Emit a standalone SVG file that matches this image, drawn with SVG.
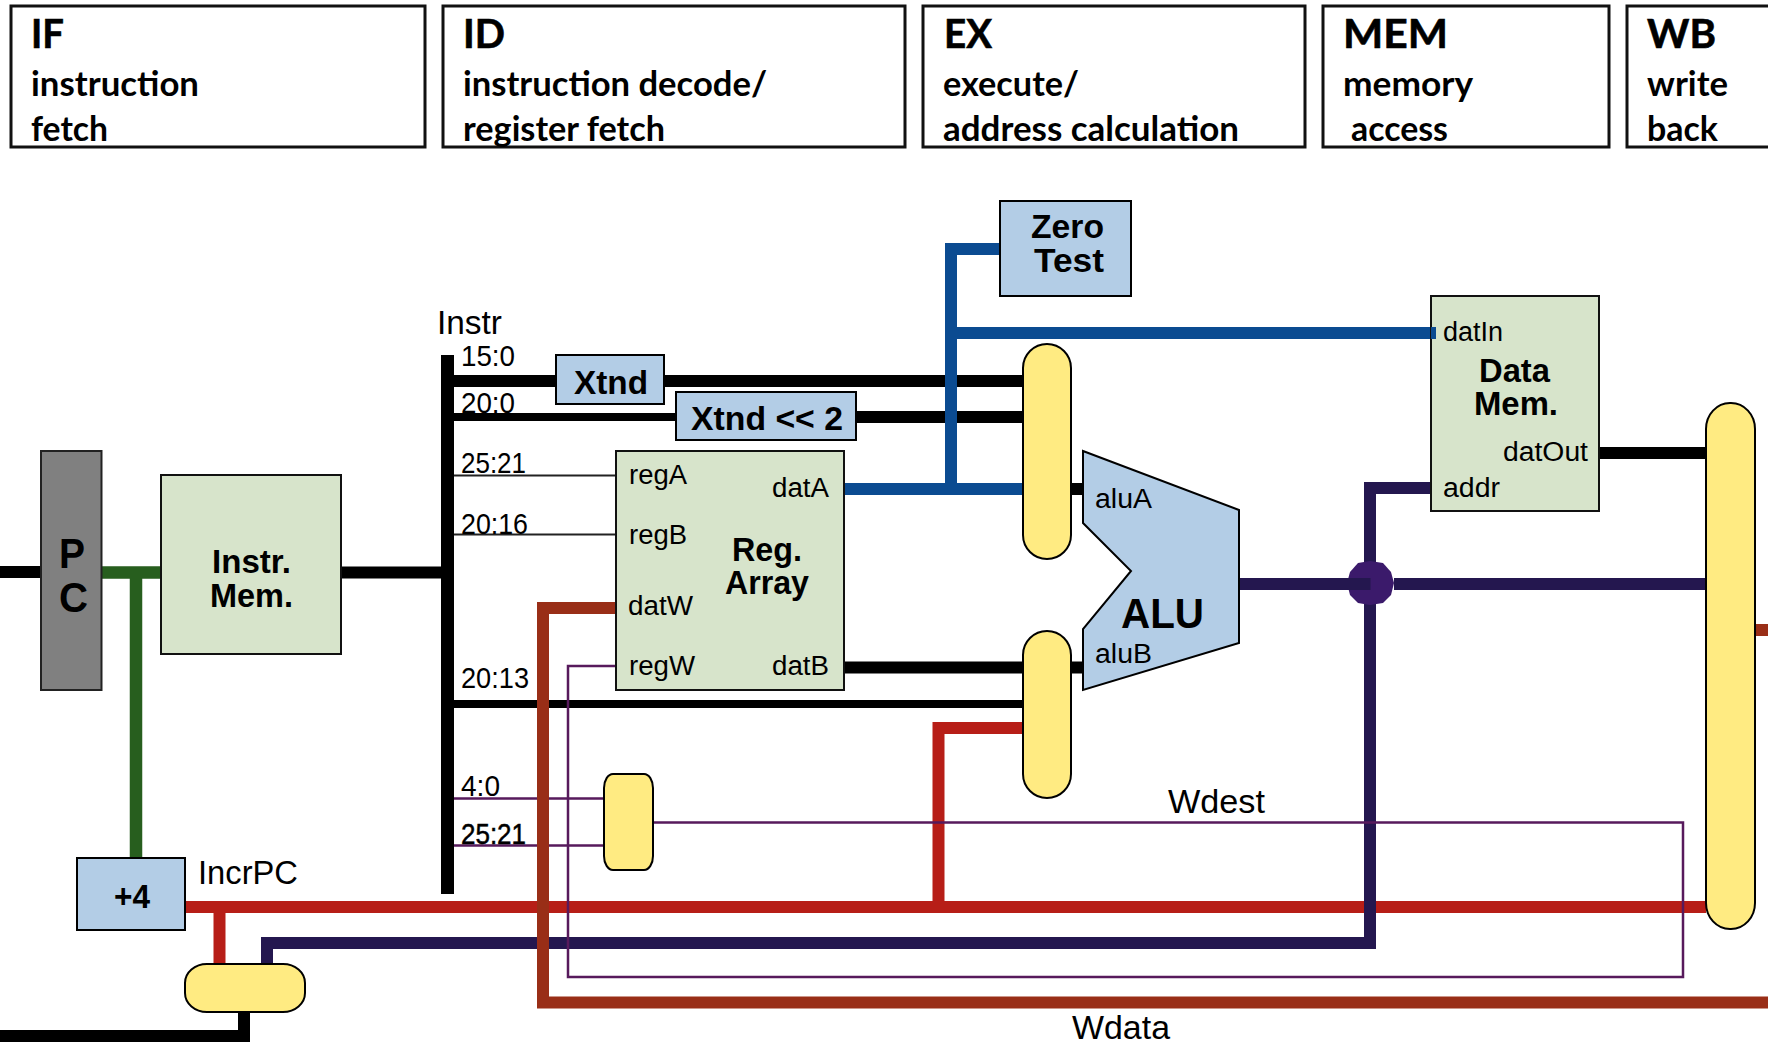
<svg xmlns="http://www.w3.org/2000/svg" width="1768" height="1044" viewBox="0 0 1768 1044">
<style>
text{fill:#000;font-family:"Liberation Sans",Arial,sans-serif}
.h{font-family:Lato,"Open Sans",sans-serif;font-weight:700;font-size:34px}
.t{font-family:Lato,"Open Sans",sans-serif;font-weight:700;font-size:41px;stroke:#000;stroke-width:.6}
.b{font-weight:700;font-size:34px}
.p{font-size:27px}
.l{font-size:33px}
.n{font-size:30px}
.hb{fill:#fff;stroke:#111;stroke-width:3}
.blue{fill:#b3cde6;stroke:#000;stroke-width:2}
.green{fill:#d7e4cb;stroke:#111;stroke-width:2}
.mux{fill:#ffeb82;stroke:#000;stroke-width:2}
.w{fill:none;stroke-linejoin:miter;stroke-linecap:butt}
.k{stroke:#000;stroke-width:12}
.k8{stroke:#000;stroke-width:8}
.thin{stroke:#222;stroke-width:2}
.gr{stroke:#275e1e;stroke-width:12.5}
.bl{stroke:#0b4b91;stroke-width:12}
.rd{stroke:#b71e17;stroke-width:12}
.nv{stroke:#24174f;stroke-width:12}
.br{stroke:#992e17;stroke-width:12}
.pu{stroke:#571a5c;stroke-width:2.5}
</style>

<g id="stage-if"><rect class="hb" x="11" y="6" width="414" height="141"/><text class="t" x="31" y="48" textLength="33" lengthAdjust="spacingAndGlyphs">IF</text><text class="h" x="31" y="96" textLength="168" lengthAdjust="spacingAndGlyphs">instruction</text><text class="h" x="31" y="141" textLength="77" lengthAdjust="spacingAndGlyphs">fetch</text></g>
<g id="stage-id"><rect class="hb" x="443" y="6" width="462" height="141"/><text class="t" x="463" y="48" textLength="42" lengthAdjust="spacingAndGlyphs">ID</text><text class="h" x="463" y="96" textLength="304" lengthAdjust="spacingAndGlyphs">instruction decode/</text><text class="h" x="463" y="141" textLength="202" lengthAdjust="spacingAndGlyphs">register fetch</text></g>
<g id="stage-ex"><rect class="hb" x="923" y="6" width="382" height="141"/><text class="t" x="944" y="48" textLength="48" lengthAdjust="spacingAndGlyphs">EX</text><text class="h" x="943" y="96" textLength="136" lengthAdjust="spacingAndGlyphs">execute/</text><text class="h" x="943" y="141" textLength="296" lengthAdjust="spacingAndGlyphs">address calculation</text></g>
<g id="stage-mem"><rect class="hb" x="1323" y="6" width="286" height="141"/><text class="t" x="1343" y="48" textLength="105" lengthAdjust="spacingAndGlyphs">MEM</text><text class="h" x="1343" y="96" textLength="130" lengthAdjust="spacingAndGlyphs">memory</text><text class="h" x="1351" y="141" textLength="97" lengthAdjust="spacingAndGlyphs">access</text></g>
<g id="stage-wb"><rect class="hb" x="1627" y="6" width="160" height="141"/><text class="t" x="1647" y="48" textLength="69" lengthAdjust="spacingAndGlyphs">WB</text><text class="h" x="1647" y="96" textLength="81" lengthAdjust="spacingAndGlyphs">write</text><text class="h" x="1647" y="141" textLength="71" lengthAdjust="spacingAndGlyphs">back</text></g>

<g id="connectors">
<path class="w k" d="M0 572H41"/>
<path class="w k" d="M341 572.500H441"/>
<path class="w k" d="M454 381H556M665 381H1023"/>
<path class="w k8" d="M454 417H676"/>
<path class="w k" d="M856 417H1023"/>
<path class="w thin" d="M454 475.500H616M454 534.500H616"/>
<path class="w k" d="M844 667.500H1023M1071 667.500H1083M1071 489H1083"/>
<path class="w k8" d="M454 704H1023"/>
<path class="w k" d="M1599 453H1706"/>
<path class="w k" d="M0 1036H244V1010"/>
<path class="w gr" d="M101 572.500H161M136 572.500V857"/>
<path class="w bl" d="M844 489H1023M999 249H951V489M951 333H1436"/>
<path class="w rd" d="M185 907H1706M219.500 907V964M1023 728H938.500V907"/>
<path class="w nv" d="M267 964V943H1370V488H1431"/>
<path class="w pu" d="M449 798.500H604M449 845.500H604"/>
<path class="w br" d="M616 608H543V1002.500H1768"/>
<path class="w br" stroke-width="14" d="M1754 630H1768"/>
<path class="w pu" d="M616 666H568V977H1683V822.500H653"/>
<path id="junction" d="M1358 563L1370 561L1383 563L1391 572L1394 583L1391 595L1383 603L1370 605L1358 603L1350 595L1347 583L1350 572Z" fill="#3b1a6b"/>
<path class="w nv" d="M1239 584H1370.500M1394 584H1706"/>
</g>

<g id="pc"><rect x="41" y="451" width="60.500" height="239" fill="#808080" stroke="#222" stroke-width="2"/><text x="59" y="568" font-size="42" font-weight="700" textLength="26" lengthAdjust="spacingAndGlyphs">P</text><text x="59" y="612" font-size="42" font-weight="700" textLength="29" lengthAdjust="spacingAndGlyphs">C</text></g>
<g id="instr-mem"><rect class="green" x="161" y="475" width="180" height="179"/><text class="b" x="212" y="573" textLength="79" lengthAdjust="spacingAndGlyphs">Instr.</text><text class="b" x="210" y="607" textLength="83" lengthAdjust="spacingAndGlyphs">Mem.</text></g>
<g id="incr"><rect class="blue" x="77" y="858" width="108" height="72"/><text class="b" x="114" y="908" textLength="36" lengthAdjust="spacingAndGlyphs">+4</text></g>
<g id="instr-bus"><rect x="441" y="355" width="13" height="539" fill="#000"/></g>
<g id="xtnd"><rect class="blue" x="556" y="355" width="108" height="49"/><text class="b" x="574" y="394" textLength="74" lengthAdjust="spacingAndGlyphs">Xtnd</text></g>
<g id="xtnd2"><rect class="blue" x="676" y="392" width="180" height="48"/><text class="b" x="691" y="430" textLength="152" lengthAdjust="spacingAndGlyphs">Xtnd &lt;&lt; 2</text></g>
<g id="reg-array"><rect class="green" x="616" y="451" width="228" height="239"/>
<text class="p" x="629" y="484" textLength="58" lengthAdjust="spacingAndGlyphs">regA</text><text class="p" x="772" y="497" textLength="57" lengthAdjust="spacingAndGlyphs">datA</text><text class="p" x="629" y="544" textLength="58" lengthAdjust="spacingAndGlyphs">regB</text><text class="p" x="628" y="615" textLength="65" lengthAdjust="spacingAndGlyphs">datW</text><text class="p" x="629" y="675" textLength="66" lengthAdjust="spacingAndGlyphs">regW</text><text class="p" x="772" y="675" textLength="57" lengthAdjust="spacingAndGlyphs">datB</text>
<text class="b" x="732" y="561" textLength="70" lengthAdjust="spacingAndGlyphs">Reg.</text><text class="b" x="725" y="594" textLength="84" lengthAdjust="spacingAndGlyphs">Array</text></g>
<g id="zero-test"><rect class="blue" x="1000" y="201" width="131" height="95"/><text class="b" x="1031" y="238" textLength="73" lengthAdjust="spacingAndGlyphs">Zero</text><text class="b" x="1034" y="272" textLength="70" lengthAdjust="spacingAndGlyphs">Test</text></g>
<g id="mux-a"><rect class="mux" x="1023" y="344" width="48" height="215" rx="24" ry="24"/></g>
<g id="mux-b"><rect class="mux" x="1023" y="631" width="48" height="167" rx="24" ry="24"/></g>
<g id="mux-w"><rect class="mux" x="604" y="774" width="49" height="96" rx="9" ry="14"/></g>
<g id="mux-pc"><rect class="mux" x="185" y="964" width="120" height="48" rx="22" ry="19"/></g>
<g id="mux-wb"><rect class="mux" x="1706" y="403" width="49" height="526" rx="24" ry="26"/></g>
<g id="alu"><path d="M1083 451L1239 510V643L1083 690V629L1131 571L1083 523Z" fill="#b3cde6" stroke="#000" stroke-width="2"/><text class="p" x="1095" y="508" textLength="57" lengthAdjust="spacingAndGlyphs">aluA</text><text class="p" x="1095" y="663" textLength="57" lengthAdjust="spacingAndGlyphs">aluB</text><text x="1121" y="628" font-size="43" font-weight="700" textLength="83" lengthAdjust="spacingAndGlyphs">ALU</text></g>
<g id="data-mem"><rect class="green" x="1431" y="296" width="168" height="215"/><path class="w bl" d="M1431 333H1436"/><text class="p" x="1443" y="341" textLength="60" lengthAdjust="spacingAndGlyphs">datIn</text><text class="b" x="1479" y="382" textLength="71" lengthAdjust="spacingAndGlyphs">Data</text><text class="b" x="1474" y="415" textLength="84" lengthAdjust="spacingAndGlyphs">Mem.</text><text class="p" x="1503" y="461" textLength="85" lengthAdjust="spacingAndGlyphs">datOut</text><text class="p" x="1443" y="497" textLength="57" lengthAdjust="spacingAndGlyphs">addr</text></g>

<g id="labels">
<text class="l" x="437" y="334" textLength="65" lengthAdjust="spacingAndGlyphs">Instr</text>
<text class="n" x="461" y="366" textLength="54" lengthAdjust="spacingAndGlyphs">15:0</text>
<text class="n" x="461" y="413" textLength="54" lengthAdjust="spacingAndGlyphs">20:0</text>
<text class="n" x="461" y="473" textLength="65" lengthAdjust="spacingAndGlyphs">25:21</text>
<text class="n" x="461" y="534" textLength="67" lengthAdjust="spacingAndGlyphs">20:16</text>
<text class="n" x="461" y="688" textLength="68" lengthAdjust="spacingAndGlyphs">20:13</text>
<text class="n" x="461" y="796" textLength="39" lengthAdjust="spacingAndGlyphs">4:0</text>
<text class="n" x="461" y="844" textLength="65" lengthAdjust="spacingAndGlyphs" stroke="#000" stroke-width=".5">25:21</text>
<text class="l" x="198" y="884" textLength="100" lengthAdjust="spacingAndGlyphs">IncrPC</text>
<text class="l" x="1168" y="813" textLength="97" lengthAdjust="spacingAndGlyphs">Wdest</text>
<text class="l" x="1072" y="1039" textLength="98" lengthAdjust="spacingAndGlyphs">Wdata</text>
</g>
</svg>
